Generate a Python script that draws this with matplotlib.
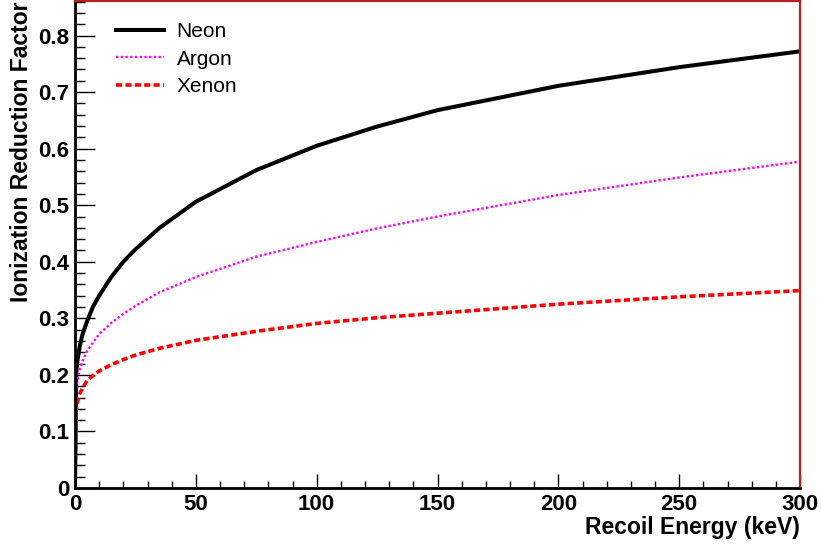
import matplotlib
matplotlib.use("Agg")
import matplotlib.pyplot as plt
from matplotlib.ticker import MultipleLocator, AutoMinorLocator

plt.rcParams["font.family"] = ["Liberation Sans", "DejaVu Sans"]

# Values (recoil energy in keV)
energy = [0, 0.5, 1, 2, 3, 5, 7.5, 10, 15, 20, 25, 35, 50, 75, 100, 125, 150,
          200, 250, 300]
neon = [0, 0.203, 0.225, 0.251, 0.27, 0.295, 0.321, 0.34, 0.373, 0.40, 0.422,
        0.46, 0.506, 0.562, 0.605, 0.639, 0.668, 0.711, 0.744, 0.772]
argon = [0, 0.174, 0.19, 0.211, 0.224, 0.242, 0.258, 0.272, 0.292, 0.308, 0.322,
         0.346, 0.373, 0.409, 0.435, 0.459, 0.48, 0.518, 0.549, 0.577]
xenon = [0, 0.139, 0.152, 0.167, 0.176, 0.19, 0.199, 0.207, 0.218, 0.227, 0.235,
         0.247, 0.261, 0.277, 0.291, 0.301, 0.309, 0.325, 0.338, 0.349]

fig = plt.figure(figsize=(8.21, 5.50), dpi=100)
ax = fig.add_axes([75 / 821, 62 / 550, 725 / 821, 487 / 550])

ax.plot(energy, neon, color="black", lw=2.9, label="Neon")
ax.plot(energy, argon, color="magenta", lw=1.7, ls=(0, (1, 1)), label="Argon")
ax.plot(energy, xenon, color="red", lw=2.6, ls=(0, (1.7, 0.9)), label="Xenon")

ax.set_xlim(0, 300)
ax.set_ylim(0, 0.861)
ax.xaxis.set_major_locator(MultipleLocator(50))
ax.xaxis.set_minor_locator(AutoMinorLocator(5))
ax.set_yticks([0, 0.1, 0.2, 0.3, 0.4, 0.5, 0.6, 0.7, 0.8])
ax.set_yticklabels(["0", "0.1", "0.2", "0.3", "0.4", "0.5", "0.6", "0.7", "0.8"])
ax.yaxis.set_minor_locator(AutoMinorLocator(5))

ax.tick_params(axis="both", which="both", direction="in", top=False, right=False,
               width=1, labelsize=16)
ax.tick_params(axis="y", which="major", length=14.5, pad=4)
ax.tick_params(axis="y", which="minor", length=7)
ax.tick_params(axis="x", which="major", length=10, pad=4)
ax.tick_params(axis="x", which="minor", length=5)
for lab in ax.get_xticklabels() + ax.get_yticklabels():
    lab.set_fontweight("bold")

for side in ("top", "right"):
    ax.spines[side].set_color("#b22222")
    ax.spines[side].set_linewidth(1.6)
for side in ("bottom", "left"):
    ax.spines[side].set_color("black")
    ax.spines[side].set_linewidth(2)

ax.set_xlabel("Recoil Energy (keV)", fontsize=16.5, fontweight="bold", loc="right", labelpad=1)
ax.set_ylabel("Ionization Reduction Factor", fontsize=16.5, fontweight="bold", loc="top", labelpad=4)

ax.legend(loc="upper left", bbox_to_anchor=(0.057, 0.957), frameon=False, fontsize=15,
          handlelength=2.3, handletextpad=0.6, labelspacing=0.42, borderaxespad=0,
          borderpad=0)

fig.savefig("out.png", dpi=100)
